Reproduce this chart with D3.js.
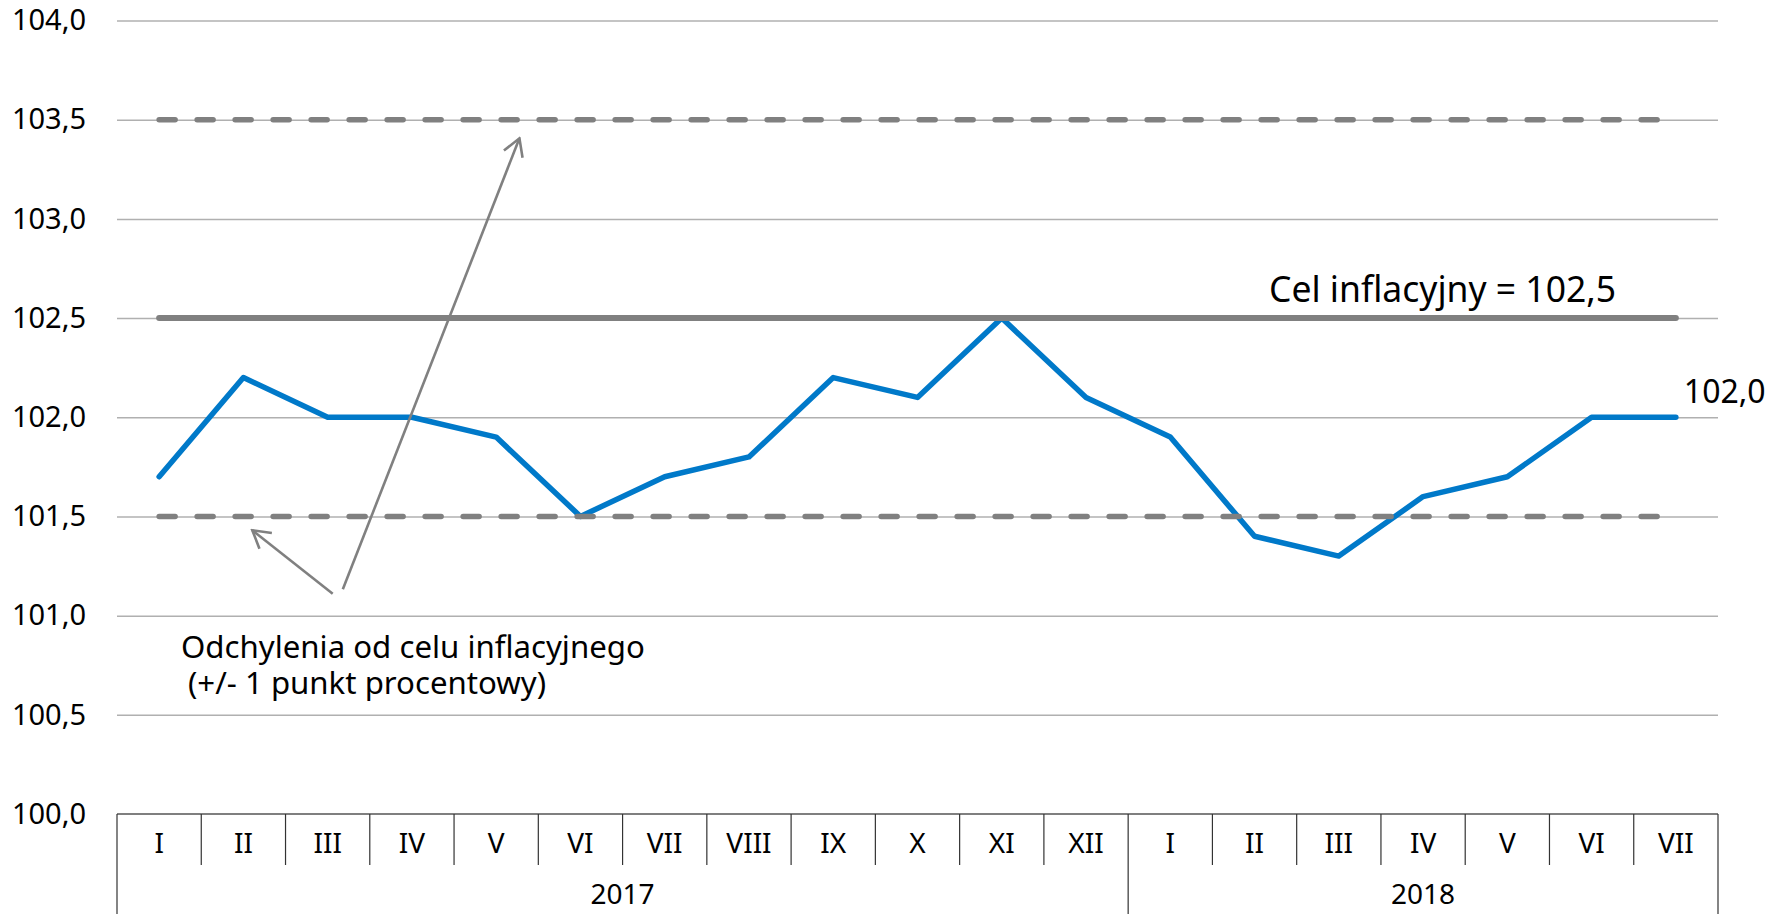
<!DOCTYPE html>
<html><head><meta charset="utf-8">
<script src="https://cdn.jsdelivr.net/npm/d3@7/dist/d3.min.js"></script>
<style>
body{margin:0;background:#fff}
text{font-family:"Noto Sans",sans-serif;fill:#000}
</style>
</head><body>
<svg id="chart" width="1785" height="914"></svg>
<script>
// ---- data ----
const months = ["I","II","III","IV","V","VI","VII","VIII","IX","X","XI","XII","I","II","III","IV","V","VI","VII"];
const years = ["2017","2018"];
const yearMonthCounts = [12, 7];
const cpi = [101.7,102.2,102.0,102.0,101.9,101.5,101.7,101.8,102.2,102.1,102.5,102.1,101.9,101.4,101.3,101.6,101.7,102.0,102.0];
const targetValue = 102.5;
const bandValues = [103.5, 101.5];
const yTickValues = [100.0,100.5,101.0,101.5,102.0,102.5,103.0,103.5,104.0];
const targetLabel = "Cel inflacyjny = 102,5";
const bandLabelLines = ["Odchylenia od celu inflacyjnego", "(+/- 1 punkt procentowy)"];
const lastLabel = "102,0";

// ---- layout ----
const W = 1785, H = 914;
const mLeft = 117, mRight = 1718, mTop = 20.5, mBottom = 814;
const svg = d3.select("#chart");
const locale = d3.formatLocale({decimal:",", thousands:" ", grouping:[3], currency:["",""]});
const fmt = locale.format(".1f");

const x = d3.scaleBand().domain(d3.range(months.length)).range([mLeft, mRight]).padding(0);
const bw = x.bandwidth();
const cx = i => x(i) + bw / 2;
const y = d3.scaleLinear().domain([100, 104]).range([mBottom, mTop]);
// fractional index -> pixel (for annotations)
const xf = d3.scaleLinear().domain([0, months.length - 1]).range([cx(0), cx(months.length - 1)]);

// gridlines
const grid = svg.append("g").attr("transform", `translate(${mLeft},0)`)
  .call(d3.axisLeft(y).tickValues(yTickValues.filter(v => v > 100)).tickSize(-(mRight - mLeft)).tickFormat(""));
grid.select(".domain").remove();
grid.selectAll("line").attr("stroke", "#b0b0b0").attr("stroke-width", 1.5);

// y tick labels
const ya = svg.append("g").attr("transform", `translate(86,0)`)
  .call(d3.axisLeft(y).tickValues(yTickValues).tickSize(0).tickPadding(0).tickFormat(fmt));
ya.select(".domain").remove();
ya.selectAll("text").attr("font-size", 29).attr("font-family", '"Noto Sans",sans-serif').attr("fill", "#000");

// category axis (two level)
const axisG = svg.append("g");
axisG.append("line").attr("x1", mLeft).attr("x2", mRight).attr("y1", mBottom).attr("y2", mBottom)
  .attr("stroke", "#555").attr("stroke-width", 1.5);
const bx = i => i < months.length ? x(i) : mRight;
// month separators
axisG.selectAll("line.msep").data(d3.range(months.length + 1)).join("line")
  .attr("class", "msep")
  .attr("x1", bx).attr("x2", bx)
  .attr("y1", mBottom).attr("y2", 865).attr("stroke", "#333").attr("stroke-width", 1.2);
// year separators
const yearStarts = [0];
yearMonthCounts.forEach((c, k) => yearStarts.push(yearStarts[k] + c));
axisG.selectAll("line.ysep").data(yearStarts).join("line")
  .attr("class", "ysep")
  .attr("x1", bx).attr("x2", bx)
  .attr("y1", 865).attr("y2", H).attr("stroke", "#333").attr("stroke-width", 1.2);
// month labels
const xa = svg.append("g").attr("transform", `translate(0,${mBottom})`)
  .call(d3.axisBottom(x).tickSize(0).tickPadding(0).tickFormat(i => months[i]));
xa.select(".domain").remove();
xa.selectAll("text").attr("font-size", 28).attr("font-family", '"Noto Sans",sans-serif').attr("fill", "#000")
  .attr("dy", null).attr("y", 39);
// year labels
axisG.selectAll("text.year").data(years).join("text")
  .attr("class", "year")
  .attr("x", (d, k) => (bx(yearStarts[k]) + bx(yearStarts[k + 1])) / 2)
  .attr("y", 904).attr("text-anchor", "middle").attr("font-size", 28).text(d => d);

// arrow marker
svg.append("defs").append("marker")
  .attr("id", "arr").attr("markerUnits", "userSpaceOnUse")
  .attr("viewBox", "-20 -12 22 24").attr("markerWidth", 22).attr("markerHeight", 24)
  .attr("refX", 0).attr("refY", 0).attr("orient", "auto")
  .append("path").attr("d", "M-17,-10 L0,0 L-17,10").attr("fill", "none")
  .attr("stroke", "#808080").attr("stroke-width", 2.6);

const line = d3.line().x(d => cx(d[0])).y(d => y(d[1]));

// CPI line
svg.append("path")
  .attr("d", line(cpi.map((v, i) => [i, v])))
  .attr("fill", "none").attr("stroke", "#0079c9").attr("stroke-width", 5.5)
  .attr("stroke-linejoin", "round").attr("stroke-linecap", "round");

// band dashed lines
bandValues.forEach(v => {
  svg.append("path")
    .attr("d", line([[0, v], [months.length - 1, v]]))
    .attr("fill", "none").attr("stroke", "#808080").attr("stroke-width", 5.5)
    .attr("stroke-dasharray", "16 22").attr("stroke-linecap", "round");
});

// target line
svg.append("path")
  .attr("d", line([[0, targetValue], [months.length - 1, targetValue]]))
  .attr("fill", "none").attr("stroke", "#808080").attr("stroke-width", 6)
  .attr("stroke-linecap", "round");

// annotation arrows (anchors in data units: fractional month index, value)
const arrows = [
  {from: [2.18, 101.133], to: [4.276, 103.406]},
  {from: [2.06, 101.11], to: [1.106, 101.43]}
];
arrows.forEach(a => {
  svg.append("line")
    .attr("x1", xf(a.from[0])).attr("y1", y(a.from[1]))
    .attr("x2", xf(a.to[0])).attr("y2", y(a.to[1]))
    .attr("stroke", "#808080").attr("stroke-width", 2.6)
    .attr("marker-end", "url(#arr)");
});

// texts
svg.append("text").attr("x", 1269).attr("y", 302).attr("font-size", 35.5).text(targetLabel);
svg.append("text").attr("x", cx(months.length - 1) + 8).attr("y", y(cpi[cpi.length - 1]) - 14)
  .attr("font-size", 32).text(lastLabel);
const bl = svg.append("text").attr("font-size", 31.2);
bl.append("tspan").attr("x", 181).attr("y", 658).text(bandLabelLines[0]);
bl.append("tspan").attr("x", 188).attr("y", 694).text(bandLabelLines[1]);
</script>
</body></html>
